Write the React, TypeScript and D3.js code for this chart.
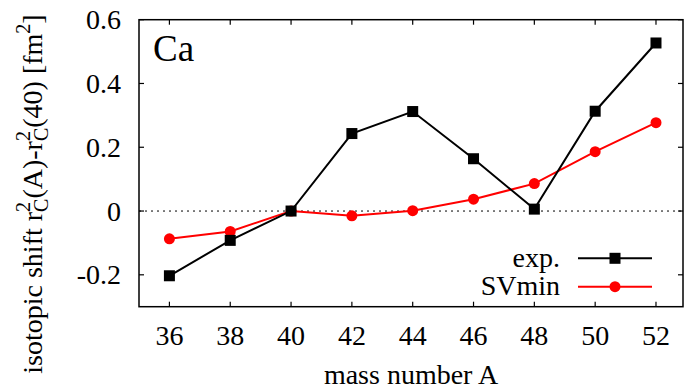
import React from "react";
import * as d3 from "d3";

const massNumbers = [36, 38, 40, 42, 44, 46, 48, 50, 52];
const expValues = [-0.203, -0.092, 0.0, 0.243, 0.312, 0.164, 0.006, 0.313, 0.527];
const svminValues = [-0.087, -0.064, 0.0, -0.015, 0.001, 0.037, 0.086, 0.186, 0.277];
const xTicks = [36, 38, 40, 42, 44, 46, 48, 50, 52];
const yTicks = [-0.2, 0, 0.2, 0.4, 0.6];
const yTickLabels = ["-0.2", "0", "0.2", "0.4", "0.6"];

const W = 685;
const H = 390;
const left = 139;
const right = 683;
const top = 19.7;
const bottom = 306.7;
const FONT = "Liberation Serif";

export default function App() {
  const x = d3.scaleLinear().domain([35, 53]).range([left, 686.4]);
  const y = d3.scaleLinear().domain([-0.3, 0.6]).range([bottom, top]);
  const line = d3
    .line<number>()
    .x((_, i) => x(massNumbers[i]))
    .y((d) => y(d));
  const tick = 5;
  const fs = 28;
  const sfs = 20;
  const ts = { fontFamily: FONT };

  return (
    <svg width={W} height={H} style={{ position: "absolute", left: 0, top: 0, background: "#fff" }}>
      <rect x={0} y={0} width={W} height={H} fill="#fff" />
      <line
        x1={left}
        x2={right}
        y1={y(0)}
        y2={y(0)}
        stroke="#000"
        strokeWidth={1}
        strokeDasharray="2,4"
      />
      {xTicks.map((t) => (
        <g key={"xt" + t}>
          <line x1={x(t)} x2={x(t)} y1={bottom} y2={bottom - tick} stroke="#000" strokeWidth={1.2} />
          <line x1={x(t)} x2={x(t)} y1={top} y2={top + tick} stroke="#000" strokeWidth={1.2} />
          <text x={x(t)} y={345} textAnchor="middle" fontSize={fs} fill="#000" style={ts}>
            {t}
          </text>
        </g>
      ))}
      {yTicks.map((t, i) => (
        <g key={"yt" + t}>
          <line x1={left} x2={left + tick} y1={y(t)} y2={y(t)} stroke="#000" strokeWidth={1.2} />
          <line x1={right} x2={right - tick} y1={y(t)} y2={y(t)} stroke="#000" strokeWidth={1.2} />
          <text x={121} y={y(t) + 9.5} textAnchor="end" fontSize={fs} fill="#000" style={ts}>
            {yTickLabels[i]}
          </text>
        </g>
      ))}
      <rect
        x={left}
        y={top}
        width={right - left}
        height={bottom - top}
        fill="none"
        stroke="#000"
        strokeWidth={1.5}
      />
      <path d={line(svminValues) || ""} fill="none" stroke="#ff0000" strokeWidth={2} />
      <path d={line(expValues) || ""} fill="none" stroke="#000" strokeWidth={2} />
      {svminValues.map((v, i) => (
        <circle key={"c" + i} cx={x(massNumbers[i])} cy={y(v)} r={5.5} fill="#ff0000" />
      ))}
      {expValues.map((v, i) => (
        <rect
          key={"s" + i}
          x={x(massNumbers[i]) - 5.5}
          y={y(v) - 5.5}
          width={11}
          height={11}
          fill="#000"
        />
      ))}
      <text x={153} y={61} fontSize={37} fill="#000" style={ts}>
        Ca
      </text>
      <text x={560} y={267} textAnchor="end" fontSize={fs} fill="#000" style={ts}>
        exp.
      </text>
      <line x1={578} x2={652} y1={258.3} y2={258.3} stroke="#000" strokeWidth={2} />
      <rect x={615 - 5.5} y={258.3 - 5.5} width={11} height={11} fill="#000" />
      <text x={560} y={295} textAnchor="end" fontSize={fs} fill="#000" style={ts}>
        SVmin
      </text>
      <line x1={578} x2={652} y1={286.7} y2={286.7} stroke="#ff0000" strokeWidth={2} />
      <circle cx={615} cy={286.7} r={5.5} fill="#ff0000" />
      <text x={411} y={384} textAnchor="middle" fontSize={fs} fill="#000" style={ts}>
        mass number A
      </text>
      <text
        transform="translate(42,194) rotate(-90)"
        textAnchor="middle"
        fontSize={fs}
        fill="#000"
        style={ts}
      >
        <tspan>isotopic shift r</tspan>
        <tspan fontSize={sfs} dy={-12}>2</tspan>
        <tspan fontSize={sfs} dx={-10} dy={18}>C</tspan>
        <tspan dy={-6}>(A)-r</tspan>
        <tspan fontSize={sfs} dy={-12}>2</tspan>
        <tspan fontSize={sfs} dx={-10} dy={18}>C</tspan>
        <tspan dy={-6}>(40) [fm</tspan>
        <tspan fontSize={sfs} dy={-12}>2</tspan>
        <tspan dy={12}>]</tspan>
      </text>
    </svg>
  );
}
